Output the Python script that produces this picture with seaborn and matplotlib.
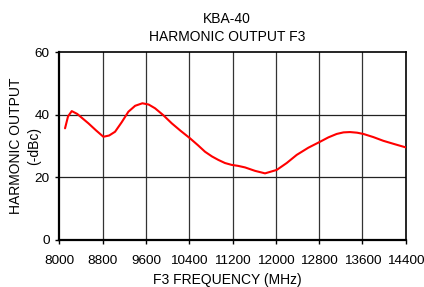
import matplotlib
matplotlib.use("Agg")
import matplotlib.pyplot as plt
import seaborn as sns
import pandas as pd

freq_mhz = [8105, 8160, 8229, 8330, 8440, 8536, 8680, 8813, 8920, 9029, 9150, 9275, 9400,
            9534, 9650, 9768, 9920, 10076, 10240, 10414, 10560, 10692, 10820, 10937, 11060,
            11185, 11300, 11430, 11615, 11800, 12016, 12200, 12385, 12600, 12816, 12970,
            13124, 13250, 13370, 13500, 13616, 13800, 13986, 14200, 14400]
output_dbc = [35.7, 39.5, 41.2, 40.3, 38.7, 37.3, 35.0, 33.0, 33.4, 34.6, 37.6, 41.0, 42.9,
              43.7, 43.3, 42.1, 39.9, 37.3, 34.9, 32.5, 30.3, 28.2, 26.7, 25.6, 24.6,
              24.0, 23.7, 23.2, 22.1, 21.3, 22.4, 24.6, 27.2, 29.5, 31.4, 32.8,
              33.9, 34.4, 34.5, 34.3, 33.9, 32.9, 31.7, 30.6, 29.6]
x_ticks = [8000, 8800, 9600, 10400, 11200, 12000, 12800, 13600, 14400]
y_ticks = [0, 20, 40, 60]

sns.set_style("white")
plt.rcParams['font.family'] = ['Liberation Sans', 'DejaVu Sans']
plt.rcParams['text.color'] = 'black'
plt.rcParams['axes.labelcolor'] = 'black'

df = pd.DataFrame({"f": freq_mhz, "v": output_dbc})
fig = plt.figure(figsize=(4.24, 2.87), dpi=100)
ax = fig.add_axes([0.140, 0.1638, 0.817, 0.654])

for xt in x_ticks[1:-1]:
    ax.axvline(xt, color="#333333", lw=0.9, zorder=1)
for yt in y_ticks[1:-1]:
    ax.axhline(yt, color="#222222", lw=0.9, zorder=1)

sns.lineplot(data=df, x="f", y="v", ax=ax, color="#ff0000", lw=1.5, zorder=3)

ax.set_xlim(8000, 14400)
ax.set_ylim(0, 60)
ax.set_xticks(x_ticks)
ax.set_yticks(y_ticks)
ax.tick_params(axis="both", direction="out", length=3, width=1, labelsize=9.7,
               colors="black", bottom=True, left=True)
ax.tick_params(axis="x", pad=7.5)
ax.tick_params(axis="y", pad=4)
for s in ax.spines.values():
    s.set_visible(True)
    s.set_color("black")
    s.set_linewidth(1.2)
ax.spines["bottom"].set_linewidth(1.6)
ax.spines["left"].set_linewidth(1.6)

ax.set_xlabel("F3 FREQUENCY (MHz)", fontsize=10, color="black")
ax.xaxis.set_label_coords(0.484, -0.176)
ax.set_ylabel("HARMONIC OUTPUT", fontsize=10, va="center", color="black")
ax.yaxis.set_label_coords(-0.124, 0.5)
ax.text(-0.074, 0.5, "(-dBc)", transform=ax.transAxes, fontsize=10, rotation=90,
        rotation_mode="anchor", ha="center", va="center", color="black")
ax.set_title("KBA-40\nHARMONIC OUTPUT F3", fontsize=10, pad=7.9, linespacing=1.38,
             x=0.484, color="black")

fig.savefig("out.png", dpi=100)
